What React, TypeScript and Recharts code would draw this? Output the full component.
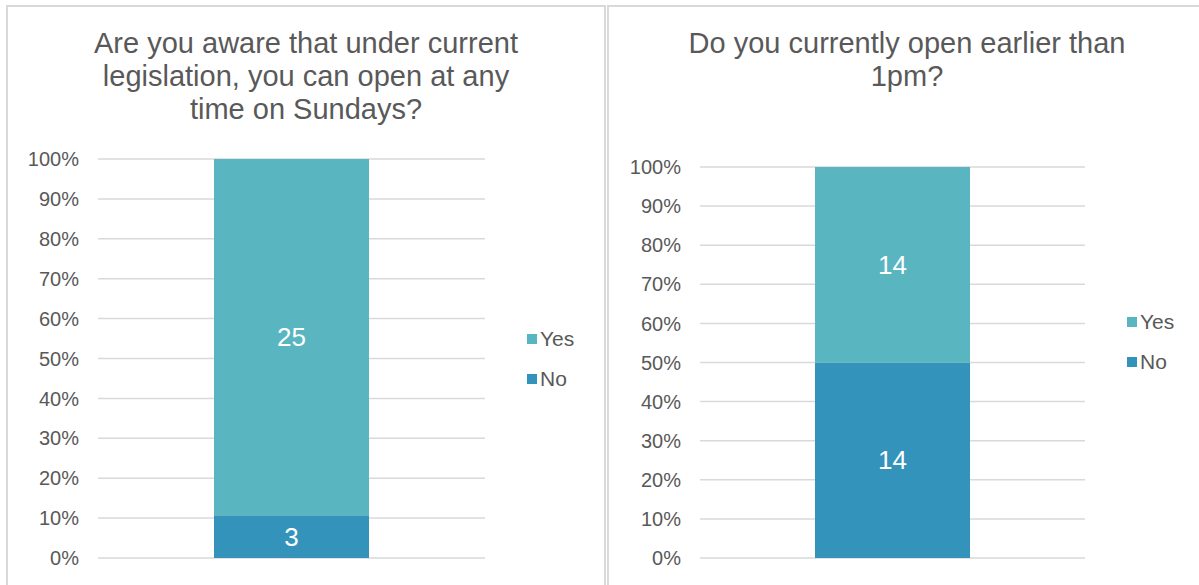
import { Bar, BarChart, CartesianGrid, LabelList, XAxis, YAxis } from "recharts";

const FONT = "'Liberation Sans', Arial, sans-serif";
const YES = "#59b5bf";
const NO = "#3493ba";

const titles = [
  "Are you aware that under current legislation, you can open at any time on Sundays?",
  "Do you currently open earlier than 1pm?",
];
const yesCounts = [25, 14];
const noCounts = [3, 14];
const pctTicks = [0, 0.1, 0.2, 0.3, 0.4, 0.5, 0.6, 0.7, 0.8, 0.9, 1];

function LegendBox({ top, left }: { top: number; left: number }) {
  const items = [
    { name: "Yes", color: YES },
    { name: "No", color: NO },
  ];
  return (
    <div style={{ position: "absolute", top, left, fontFamily: FONT, fontSize: 21, color: "#595959" }}>
      {items.map((it) => (
        <div key={it.name} style={{ display: "flex", alignItems: "center", height: 40 }}>
          <span style={{ width: 10, height: 10, background: it.color, marginRight: 3, display: "inline-block" }} />
          {it.name}
        </div>
      ))}
    </div>
  );
}

function Panel({
  idx,
  left,
  yAxisW,
  rightM,
  topM,
  titleW,
  legendTop,
  legendLeft,
}: {
  idx: number;
  left: number;
  yAxisW: number;
  rightM: number;
  topM: number;
  titleW: number;
  legendTop: number;
  legendLeft: number;
}) {
  const width = 600;
  const data = [{ name: "q", yes: yesCounts[idx], no: noCounts[idx] }];
  return (
    <div
      style={{
        position: "absolute",
        left,
        top: 5,
        width,
        height: 600,
        border: "2px solid #d9d9d9",
        boxSizing: "border-box",
        background: "#fff",
      }}
    >
      <div
        style={{
          position: "absolute",
          top: 20,
          left: 0,
          right: 0,
          margin: "0 auto",
          width: titleW,
          textAlign: "center",
          fontFamily: FONT,
          fontSize: 29,
          lineHeight: "33px",
          color: "#595959",
        }}
      >
        {titles[idx]}
      </div>
      <div style={{ position: "absolute", left: -2, top: -7 }}>
        <BarChart
          width={width}
          height={585}
          data={data}
          stackOffset="expand"
          margin={{ top: topM, right: rightM, left: 0, bottom: 27 }}
          barSize={155}
        >
          <CartesianGrid vertical={false} stroke="#d9d9d9" strokeWidth={1.5} />
          <XAxis dataKey="name" hide />
          <YAxis
            width={yAxisW}
            domain={[0, 1]}
            ticks={pctTicks}
            tickFormatter={(v) => `${Math.round(v * 100)}%`}
            tick={{ fontSize: 20, fill: "#595959", fontFamily: FONT }}
            axisLine={false}
            tickLine={false}
            tickSize={0}
            tickMargin={19}
          />
          <Bar dataKey="no" stackId="a" fill={NO} isAnimationActive={false}>
            <LabelList dataKey="no" position="center" fill="#fff" fontSize={26} fontFamily={FONT} />
          </Bar>
          <Bar dataKey="yes" stackId="a" fill={YES} isAnimationActive={false}>
            <LabelList dataKey="yes" position="center" fill="#fff" fontSize={26} fontFamily={FONT} />
          </Bar>
        </BarChart>
      </div>
      <LegendBox top={legendTop} left={legendLeft} />
    </div>
  );
}

export default function App() {
  return (
    <div style={{ position: "absolute", left: 0, top: 0, width: 1199, height: 585, overflow: "hidden", background: "#fff" }}>
      <Panel idx={0} left={6} yAxisW={92} rightM={121} topM={159} titleW={440} legendTop={312} legendLeft={519} />
      <Panel idx={1} left={607} yAxisW={93} rightM={122} topM={167} titleW={470} legendTop={295} legendLeft={518} />
    </div>
  );
}
